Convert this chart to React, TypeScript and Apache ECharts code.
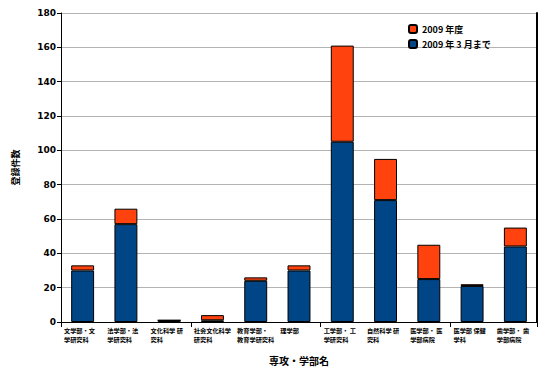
import React, { useEffect, useRef } from "react";
import * as echarts from "echarts";

const categories = [
  "文学部・文\n学研究科",
  "法学部・法\n学研究科",
  "文化科学 研\n究科",
  "社会文化科学\n研究科",
  "教育学部・\n教育学研究科",
  "理学部",
  "工学部・ 工\n学研究科",
  "自然科学 研\n究科",
  "医学部・ 医\n学部病院",
  "医学部 保健\n学科",
  "歯学部・ 歯\n学部病院",
];
const untilMarch2009 = [30, 57, 1, 1, 24, 30, 105, 71, 25, 21, 44];
const fiscal2009 = [3, 9, 0, 3, 2, 3, 56, 24, 20, 1, 11];
const seriesNames = ["2009 年度", "2009 年 3 月まで"];
const yTicks = { min: 0, max: 180, interval: 20 };

const FONT = "'Noto Sans CJK JP', 'DejaVu Sans', sans-serif";

export default function App() {
  const ref = useRef<HTMLDivElement>(null);
  useEffect(() => {
    document.body.style.margin = "0";
    const chart = echarts.init(ref.current!, null, { renderer: "svg" });
    chart.setOption({
      animation: false,
      backgroundColor: "#ffffff",
      textStyle: { fontFamily: FONT },
      grid: { left: 61, right: 19, top: 13, bottom: 54 },
      legend: {
        orient: "vertical",
        left: 403,
        top: 19,
        itemWidth: 8,
        itemHeight: 8,
        itemGap: 5,
        data: [seriesNames[0], seriesNames[1]],
        textStyle: { fontSize: 9, fontWeight: "bold", color: "#000", fontFamily: FONT },
      },
      xAxis: [
        {
          type: "category",
          data: categories,
          name: "専攻・学部名",
          nameLocation: "middle",
          nameGap: 33,
          nameTextStyle: { fontSize: 10, fontWeight: "bold", color: "#000" },
          axisLine: { lineStyle: { color: "#000", width: 1 } },
          axisTick: { show: true, length: 5, lineStyle: { color: "#000" } },
          axisLabel: { show: false },
        },
        {
          type: "category",
          data: [...categories, ""],
          boundaryGap: false,
          position: "bottom",
          axisLine: { show: false },
          axisTick: { show: false },
          axisLabel: {
            interval: 0,
            hideOverlap: false,
            align: "left",
            verticalAlign: "top",
            margin: 4,
            padding: [0, 0, 0, 3],
            fontSize: 6.2,
            lineHeight: 9,
            fontWeight: "bold",
            color: "#000",
          },
        },
      ],
      yAxis: [
        {
          type: "value",
          min: yTicks.min,
          max: yTicks.max,
          interval: yTicks.interval,
          name: "登録件数",
          nameLocation: "middle",
          nameGap: 41,
          nameTextStyle: { fontSize: 9, fontWeight: "bold", color: "#000" },
          axisLine: { show: true, lineStyle: { color: "#000" } },
          axisTick: { show: true, length: 4, lineStyle: { color: "#000" } },
          axisLabel: { fontSize: 9, fontWeight: "bold", color: "#000", margin: 5, fontFamily: "'DejaVu Sans', sans-serif" },
          splitLine: { show: true, lineStyle: { color: "#b3b3b3", width: 1 } },
        },
        {
          type: "value",
          min: yTicks.min,
          max: yTicks.max,
          interval: yTicks.interval,
          position: "right",
          axisLine: { show: true, lineStyle: { color: "#000", width: 2 } },
          axisTick: { show: false },
          axisLabel: { show: false },
          splitLine: { show: false },
        },
      ],
      series: [
        {
          name: seriesNames[1],
          type: "bar",
          stack: "total",
          data: untilMarch2009,
          barWidth: "53%",
          itemStyle: { color: "#004586", borderColor: "#000", borderWidth: 1 },
        },
        {
          name: seriesNames[0],
          type: "bar",
          stack: "total",
          data: fiscal2009,
          barWidth: "53%",
          itemStyle: { color: "#ff420e", borderColor: "#000", borderWidth: 1 },
        },
      ],
    });
    return () => chart.dispose();
  }, []);
  return <div ref={ref} style={{ width: 556, height: 376 }} />;
}
